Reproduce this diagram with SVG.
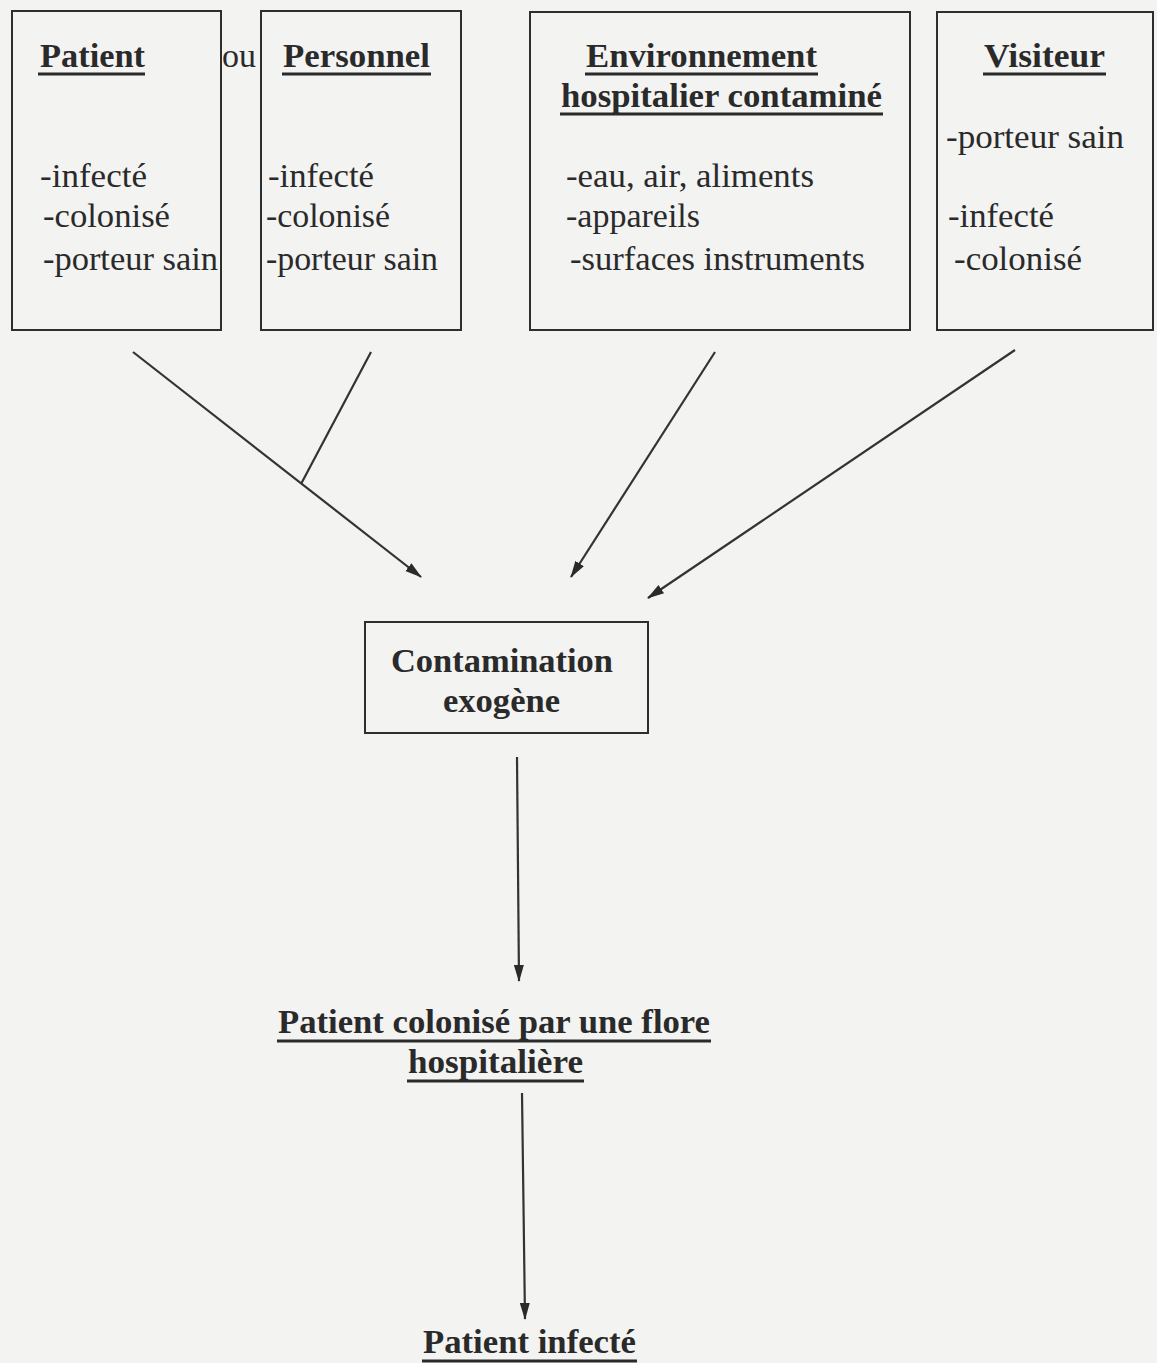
<svg xmlns="http://www.w3.org/2000/svg" width="1157" height="1363" viewBox="0 0 1157 1363">
<defs>
<style>
.bg{fill:#f3f3f2}
.box{fill:none;stroke:#2e2e2e;stroke-width:2}
.t{font-family:'Liberation Serif','DejaVu Serif','Times New Roman',serif;font-size:33px;fill:#2a2a2a}
.b{font-weight:bold}
.ul{stroke:#2a2a2a;stroke-width:3}
.c{stroke:#333;stroke-width:2.2;fill:none}
</style>
<marker id="ah" markerWidth="18" markerHeight="14" refX="16" refY="7" orient="auto" markerUnits="userSpaceOnUse">
<path d="M0,2 L17,7 L0,12 Z" fill="#2a2a2a"/>
</marker>
</defs>
<rect class="bg" x="0" y="0" width="1157" height="1363"/>

<g id="patient" font-family="Liberation Serif, serif">
<rect class="box" x="12" y="11" width="209" height="319"/>
<text class="t b" x="40" y="67" textLength="105" lengthAdjust="spacingAndGlyphs">Patient</text>
<line class="ul" x1="38" y1="74" x2="145" y2="74"/>
<text class="t" x="40" y="187" textLength="107" lengthAdjust="spacingAndGlyphs">-infecté</text>
<text class="t" x="43" y="227" textLength="127" lengthAdjust="spacingAndGlyphs">-colonisé</text>
<text class="t" x="43" y="270" textLength="175" lengthAdjust="spacingAndGlyphs">-porteur sain</text>
</g>

<text id="ou" class="t" x="222" y="67" textLength="34" lengthAdjust="spacingAndGlyphs">ou</text>

<g id="personnel">
<rect class="box" x="261" y="11" width="200" height="319"/>
<text class="t b" x="283" y="67" textLength="147" lengthAdjust="spacingAndGlyphs">Personnel</text>
<line class="ul" x1="282" y1="74" x2="431" y2="74"/>
<text class="t" x="268" y="187" textLength="106" lengthAdjust="spacingAndGlyphs">-infecté</text>
<text class="t" x="266" y="227" textLength="124" lengthAdjust="spacingAndGlyphs">-colonisé</text>
<text class="t" x="266" y="270" textLength="172" lengthAdjust="spacingAndGlyphs">-porteur sain</text>
</g>

<g id="environnement">
<rect class="box" x="530" y="12" width="380" height="318"/>
<text class="t b" x="586" y="67" textLength="231" lengthAdjust="spacingAndGlyphs">Environnement</text>
<line class="ul" x1="585" y1="74" x2="818" y2="74"/>
<text class="t b" x="561" y="107" textLength="321" lengthAdjust="spacingAndGlyphs">hospitalier contaminé</text>
<line class="ul" x1="560" y1="114" x2="883" y2="114"/>
<text class="t" x="566" y="187" textLength="248" lengthAdjust="spacingAndGlyphs">-eau, air, aliments</text>
<text class="t" x="566" y="227" textLength="134" lengthAdjust="spacingAndGlyphs">-appareils</text>
<text class="t" x="570" y="270" textLength="295" lengthAdjust="spacingAndGlyphs">-surfaces instruments</text>
</g>

<g id="visiteur">
<rect class="box" x="937" y="12" width="216" height="318"/>
<text class="t b" x="984" y="67" textLength="121" lengthAdjust="spacingAndGlyphs">Visiteur</text>
<line class="ul" x1="983" y1="74" x2="1106" y2="74"/>
<text class="t" x="946" y="148" textLength="178" lengthAdjust="spacingAndGlyphs">-porteur sain</text>
<text class="t" x="948" y="227" textLength="106" lengthAdjust="spacingAndGlyphs">-infecté</text>
<text class="t" x="954" y="270" textLength="128" lengthAdjust="spacingAndGlyphs">-colonisé</text>
</g>

<g id="contamination">
<rect class="box" x="365" y="622" width="283" height="111"/>
<text class="t b" x="391" y="672" textLength="222" lengthAdjust="spacingAndGlyphs">Contamination</text>
<text class="t b" x="443" y="712" textLength="117" lengthAdjust="spacingAndGlyphs">exogène</text>
</g>

<g id="colonise">
<text class="t b" x="278" y="1033" textLength="432" lengthAdjust="spacingAndGlyphs">Patient colonisé par une flore</text>
<line class="ul" x1="277" y1="1041" x2="711" y2="1041"/>
<text class="t b" x="408" y="1073" textLength="175" lengthAdjust="spacingAndGlyphs">hospitalière</text>
<line class="ul" x1="407" y1="1081" x2="584" y2="1081"/>
</g>

<g id="infecte">
<text class="t b" x="423" y="1353" textLength="213" lengthAdjust="spacingAndGlyphs">Patient infecté</text>
<line class="ul" x1="422" y1="1361" x2="637" y2="1361"/>
</g>

<g id="connectors">
<line class="c" x1="133" y1="352" x2="421" y2="577" marker-end="url(#ah)"/>
<line class="c" x1="371" y1="352" x2="301" y2="484"/>
<line class="c" x1="715" y1="352" x2="571" y2="577" marker-end="url(#ah)"/>
<line class="c" x1="1015" y1="350" x2="648" y2="598" marker-end="url(#ah)"/>
<line class="c" x1="517" y1="757" x2="519" y2="981" marker-end="url(#ah)"/>
<line class="c" x1="522" y1="1093" x2="525" y2="1319" marker-end="url(#ah)"/>
</g>
</svg>
